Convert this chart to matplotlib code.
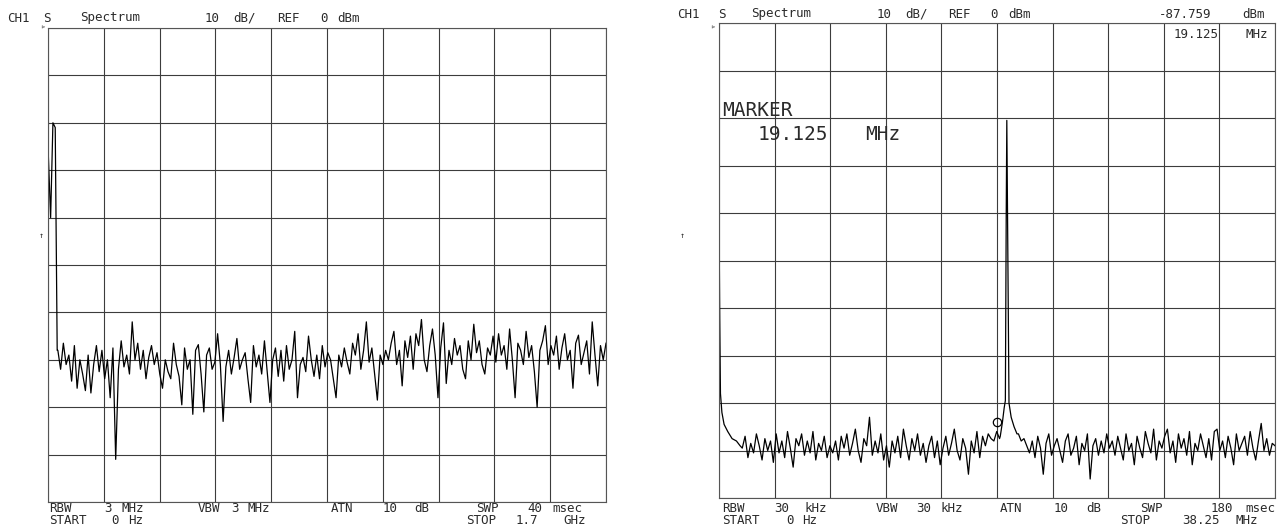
import numpy as np
import matplotlib.pyplot as plt
from matplotlib.transforms import ScaledTranslation

W, H = 1277, 529

# --- left sweep: 0 Hz .. 1.7 GHz, RBW 3 MHz (levels in dBm) ---
left_span = 1700.0
left_spike_freq = [0, 8, 15, 22, 28]
left_spike_dbm = [-25, -40, -20, -21, -68]
left_noise_from = 30.0
left_noise_dbm = [
    -68, -72, -66.5, -71, -69, -74.5, -67, -76, -70, -73, -76.5, -69, -77, -71, -67, -72.5, -68, -74, -70, -78,
    -67.5, -91, -72, -66, -71.5, -69, -73, -62, -70, -66.5, -72, -68, -74, -69.5, -67, -71, -68.5, -73, -76, -70,
    -72.5, -74, -66.5, -71, -73.5, -79.5, -67.5, -72, -70, -81.5, -68, -66.8, -73, -81, -69, -67.5, -72, -70.5, -64.5, -71,
    -83, -71.5, -68, -73, -69.5, -65.5, -72, -70, -68.5, -74, -79, -67, -71.5, -69, -73, -66, -72.5, -79, -70, -67.5,
    -73.5, -68, -74.5, -67, -72, -70, -64, -78, -71, -69.5, -72.5, -65, -70, -73.5, -69, -74, -67, -71.5, -68.5, -70,
    -74, -78, -69, -71.5, -67.5, -70.5, -73, -66.5, -69, -64.5, -72, -68, -62, -70.5, -67.5, -73, -78.5, -69, -71, -68,
    -70, -66.5, -64, -71, -68, -75.5, -66, -69.5, -65, -72, -64.5, -67, -61.5, -70, -72.5, -67, -63.5, -69, -78, -67.5,
    -62.2, -75, -68, -71, -65.5, -69, -67, -72, -74, -66, -70, -62.5, -68.5, -66, -71, -73, -67.5, -69, -65, -70.5,
    -64.5, -69, -67, -72, -63.5, -70, -78, -66.5, -68, -71, -64, -69.5, -67, -72.5, -80, -68, -66, -62.8, -71, -67,
    -69, -65, -72, -67.5, -64.5, -70, -68, -76, -66.5, -64.8, -71, -68.5, -66, -73, -62, -69, -75.5, -67, -70, -66.5,
]

# --- right sweep: 0 Hz .. 38.25 MHz, RBW 30 kHz ---
right_span = 38.25
right_start_freq = [0, 0.05, 0.1, 0.2, 0.35, 0.6, 0.9, 1.2, 1.45]
right_start_dbm = [-40, -62, -78, -82, -84.5, -86, -87.5, -88, -89]
right_noise_a = [  # 1.6 .. 19.3 MHz
    -89.5, -87, -91.5, -88.5, -90.5, -86.5, -89, -92, -87.5, -90, -88, -92.5,
    -86.5, -90.5, -88, -91.5, -86, -89.5, -93.5, -87.5, -89, -86.5, -91, -88, -90.5, -86, -92, -88.5, -90, -87, -91.5, -89,
    -90.5, -88, -92, -87, -89.5, -86.5, -91, -88.5, -85.5, -90, -92.5, -87.5, -89, -83, -91, -88, -90.5, -86.5, -92, -89,
    -93.5, -88, -90.5, -87, -91.5, -85.5, -89, -92, -87.5, -90, -86.5, -91, -88.5, -92.5, -89, -87, -91.5, -88, -93, -89.5,
    -87, -91, -88.5, -85.5, -90, -92, -87.5, -89.5, -95, -88, -90.5, -86, -91.5, -87, -89, -86.5, -87.5, -88, -86, -87.5,
]
right_peak_freq = [19.35, 19.5, 19.62, 19.7, 19.76, 19.8, 19.86, 19.95, 20.1, 20.3, 20.5]
right_peak_dbm = [-87, -84, -81, -79.5, -40, -20.5, -45, -80, -83, -85, -86.5]
right_noise_b = [  # 20.6 .. 38.25 MHz
    -86.5, -88, -87.5, -89, -90.5, -88, -91.5, -87, -89.5, -95, -88.5, -86.5, -91, -89,
    -87.5, -90, -92.5, -88, -86.5, -91, -89.5, -87, -93, -88.5, -90, -86.5, -96, -89, -87.5, -91, -88, -90.5, -86.5, -89.5,
    -88, -91, -87, -89.5, -92, -86.5, -90, -88.5, -93, -87, -89.5, -91.5, -86, -88.5, -90.5, -85.5, -92, -88, -89.5, -87,
    -85.5, -90.5, -88, -92.5, -86.5, -89.5, -87.5, -91, -86, -93, -88.5, -90, -86.5, -89, -91.5, -87.5, -92, -86, -85.5, -90,
    -88, -91.5, -87, -89.5, -93, -86.5, -90, -88.5, -87, -91, -86, -89.5, -92, -88, -84.3, -90, -87.5, -91, -88.5, -89,
]
marker_freq = 19.125
marker_dbm = -87.759

MONO = "DejaVu Sans Mono"
INK = "#2a2a2a"

fig = plt.figure(figsize=(W / 100, H / 100), dpi=100)
fig.patch.set_facecolor("white")


def screen_axes(x0, y0, x1, y1, span):
    ax = fig.add_axes([x0 / W, 1 - y1 / H, (x1 - x0) / W, (y1 - y0) / H])
    ax.set_xlim(0, span)
    ax.set_ylim(-100, 0)
    ax.set_xticks(np.linspace(0, span, 11))
    ax.set_yticks(np.arange(-100, 1, 10))
    ax.grid(True, color="#3c3c3c", lw=0.8)
    ax.tick_params(length=0, labelbottom=False, labelleft=False)
    for s in ax.spines.values():
        s.set_color("#555555")
        s.set_linewidth(0.8)
    return ax


def words(items, y, size=9):
    for s, x in items:
        fig.text(x / W, 1 - y / H, s, fontsize=size, family=MONO,
                 ha="left", va="center", color=INK)


# left screen
axl = screen_axes(48, 28, 606, 502, left_span)
lf = np.concatenate([left_spike_freq,
                     np.linspace(left_noise_from, left_span, len(left_noise_dbm))])
ll = np.concatenate([left_spike_dbm, left_noise_dbm])
axl.plot(lf, ll, color="black", lw=0.9)

# right screen
axr = screen_axes(719, 23, 1275, 498, right_span)
rf = np.concatenate([right_start_freq,
                     np.linspace(1.6, 19.3, len(right_noise_a)),
                     right_peak_freq,
                     np.linspace(20.6, right_span, len(right_noise_b))])
rl = np.concatenate([right_start_dbm, right_noise_a, right_peak_dbm, right_noise_b])
axr.plot(rf, rl, color="black", lw=0.9)
# marker symbol sits just above the marked trace point
lift = axr.transData + ScaledTranslation(0, 13 / 72, fig.dpi_scale_trans)
axr.plot([marker_freq], [marker_dbm], marker="o", ms=6, mfc="none", mec="black",
         mew=0.9, transform=lift)

# header lines
words([("CH1", 7), ("S", 43), ("Spectrum", 80), ("10", 205), ("dB/", 233),
       ("REF", 277), ("0", 320), ("dBm", 337)], 18)
words([("CH1", 677), ("S", 718), ("Spectrum", 751), ("10", 877), ("dB/", 905),
       ("REF", 948), ("0", 990), ("dBm", 1008), ("-87.759", 1159), ("dBm", 1242)], 14)
words([("19.125", 1174), ("MHz", 1245)], 35)

# marker readout
words([("MARKER", 722)], 110, size=14)
words([("19.125", 758), ("MHz", 865)], 135, size=14)

# footer lines
words([("RBW", 49), ("3", 104), ("MHz", 122), ("VBW", 198), ("3", 231), ("MHz", 248),
       ("ATN", 331), ("10", 383), ("dB", 414), ("SWP", 476), ("40", 527), ("msec", 552)], 509)
words([("START", 49), ("0", 111), ("Hz", 128), ("STOP", 466), ("1.7", 516), ("GHz", 563)], 520)
words([("RBW", 722), ("30", 774), ("kHz", 804), ("VBW", 876), ("30", 916), ("kHz", 940),
       ("ATN", 1000), ("10", 1054), ("dB", 1086), ("SWP", 1140), ("180", 1211), ("msec", 1245)], 509)
words([("START", 722), ("0", 786), ("Hz", 802), ("STOP", 1120), ("38.25", 1182), ("MHz", 1235)], 520)

# small reference-position arrows and corner marks
words([("\u2191", 39), ("\u2191", 680)], 236, size=6)
words([("\u25b9", 40), ("\u25b9", 710)], 27, size=6)

fig.savefig("out.png", dpi=100, facecolor="white")
